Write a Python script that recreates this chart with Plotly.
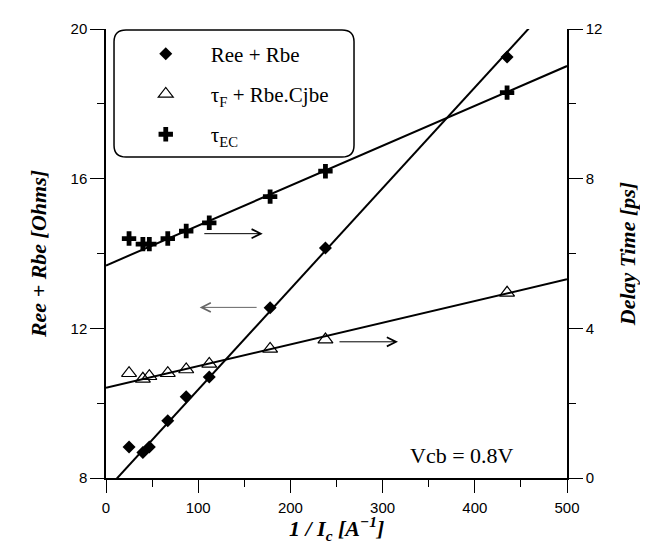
import plotly.graph_objects as go

# ---- data ----
inv_ic = [25, 40, 47, 67, 87, 112, 178, 238, 435]          # 1/Ic [A^-1]
ree_rbe = [8.83, 8.68, 8.83, 9.53, 10.17, 10.70, 12.55, 14.15, 19.25]   # Ohms (left axis)
tau_f = [2.80, 2.65, 2.72, 2.80, 2.90, 3.05, 3.45, 3.70, 4.95]          # ps (right axis)
tau_ec = [6.40, 6.25, 6.25, 6.40, 6.60, 6.82, 7.52, 8.20, 10.30]        # ps (right axis)

# fitted straight lines (end values read at x = 0 and x = 500)
fit_x = [0, 500]
fit_ree = [7.67, 21.13]
fit_tau_f = [2.41, 5.31]
fit_tau_ec = [5.68, 11.01]

names = ["Ree + Rbe", "\u03c4<sub>F</sub> + Rbe.Cjbe", "\u03c4<sub>EC</sub>"]
x_title = "<b><i>1 / I<sub>c</sub> [A<sup>\u22121</sup>]</i></b>"

SERIF = "Liberation Serif, Times New Roman, serif"
SANS = "Liberation Sans, Arial, sans-serif"

fig = go.Figure()

# fit lines
fig.add_trace(go.Scatter(x=fit_x, y=fit_ree, mode="lines", line=dict(color="black", width=2),
                         showlegend=False, hoverinfo="skip", yaxis="y"))
fig.add_trace(go.Scatter(x=fit_x, y=fit_tau_f, mode="lines", line=dict(color="black", width=2),
                         showlegend=False, hoverinfo="skip", yaxis="y2"))
fig.add_trace(go.Scatter(x=fit_x, y=fit_tau_ec, mode="lines", line=dict(color="black", width=2),
                         showlegend=False, hoverinfo="skip", yaxis="y2"))

# data markers
fig.add_trace(go.Scatter(x=inv_ic, y=ree_rbe, mode="markers", name=names[0], legendgroup="a",
                         marker=dict(symbol="diamond", size=10, color="black"), yaxis="y"))
fig.add_trace(go.Scatter(x=inv_ic, y=tau_f, mode="markers", name=names[1], legendgroup="b",
                         marker=dict(symbol="triangle-up-open", size=13, color="black",
                                     line=dict(width=1.2, color="black")), yaxis="y2"))
fig.add_trace(go.Scatter(x=inv_ic, y=tau_ec, mode="markers", name=names[2], legendgroup="c",
                         marker=dict(symbol="cross", size=12, color="black"), yaxis="y2"))

# rounded legend box (paper coords)
x0, x1, y0, y1 = 0.0174, 0.538, 0.715, 0.998
rx, ry = 0.026, 0.0263
path = (f"M {x0+rx},{y1} L {x1-rx},{y1} Q {x1},{y1} {x1},{y1-ry} L {x1},{y0+ry} "
        f"Q {x1},{y0} {x1-rx},{y0} L {x0+rx},{y0} Q {x0},{y0} {x0},{y0+ry} "
        f"L {x0},{y1-ry} Q {x0},{y1} {x0+rx},{y1} Z")

axis_common = dict(showline=True, linecolor="black", linewidth=1.5, showgrid=False, zeroline=False,
                   ticks="outside", tickcolor="black", tickwidth=1.2,
                   tickfont=dict(family=SANS, size=15, color="black"))

fig.update_layout(
    width=648, height=544,
    margin=dict(l=98, r=89, t=14, b=74),
    paper_bgcolor="white", plot_bgcolor="white",
    showlegend=True,
    legend=dict(x=0.032, y=0.99, xanchor="left", yanchor="top", bgcolor="rgba(0,0,0,0)",
                borderwidth=0, font=dict(family=SERIF, size=21, color="black"),
                itemwidth=80, tracegroupgap=10),
    xaxis=dict(range=[0, 500], tick0=0, dtick=100, ticklen=13,
               minor=dict(dtick=50, ticklen=7, ticks="outside", tickcolor="black"),
               ticklabelstandoff=2,
               **axis_common),
    yaxis=dict(range=[8, 20], tick0=8, dtick=4, ticklen=14,
               minor=dict(dtick=2, ticklen=7, ticks="outside", tickcolor="black"),
               title=dict(text="<b><i>Ree + Rbe [Ohms]</i></b>",
                          font=dict(family=SERIF, size=22, color="black"), standoff=18),
               **axis_common),
    yaxis2=dict(range=[0, 12], tick0=0, dtick=4, ticklen=14, overlaying="y", side="right",
                minor=dict(dtick=2, ticklen=7, ticks="outside", tickcolor="black"),
                title=dict(text="<b><i>Delay Time [ps]</i></b>",
                           font=dict(family=SERIF, size=22, color="black"), standoff=18),
                **axis_common),
    shapes=[dict(type="path", path=path, xref="paper", yref="paper",
                 line=dict(color="black", width=1.5), fillcolor="rgba(0,0,0,0)", layer="above")],
    annotations=[
        dict(text=x_title, x=0.5, y=-0.112, xref="paper", yref="paper", xanchor="center",
             yanchor="middle", showarrow=False, font=dict(family=SERIF, size=22, color="black")),
        dict(text="Vcb = 0.8V", x=445, y=8.6, xref="x", yref="y", xanchor="right",
             showarrow=False, font=dict(family=SERIF, size=22, color="black")),
        dict(text="", x=170, y=6.53, xref="x", yref="y2", ax=105, ay=6.53, axref="x", ayref="y2",
             showarrow=True, arrowhead=5, arrowsize=1.8, arrowwidth=1, arrowcolor="black"),
        dict(text="", x=101.6, y=12.56, xref="x", yref="y", ax=165, ay=12.56, axref="x", ayref="y",
             showarrow=True, arrowhead=5, arrowsize=1.8, arrowwidth=1, arrowcolor="#666666"),
        dict(text="", x=316.7, y=3.64, xref="x", yref="y2", ax=251.6, ay=3.64, axref="x", ayref="y2",
             showarrow=True, arrowhead=5, arrowsize=1.8, arrowwidth=1, arrowcolor="black"),
    ],
)

fig.write_html("out.html")
